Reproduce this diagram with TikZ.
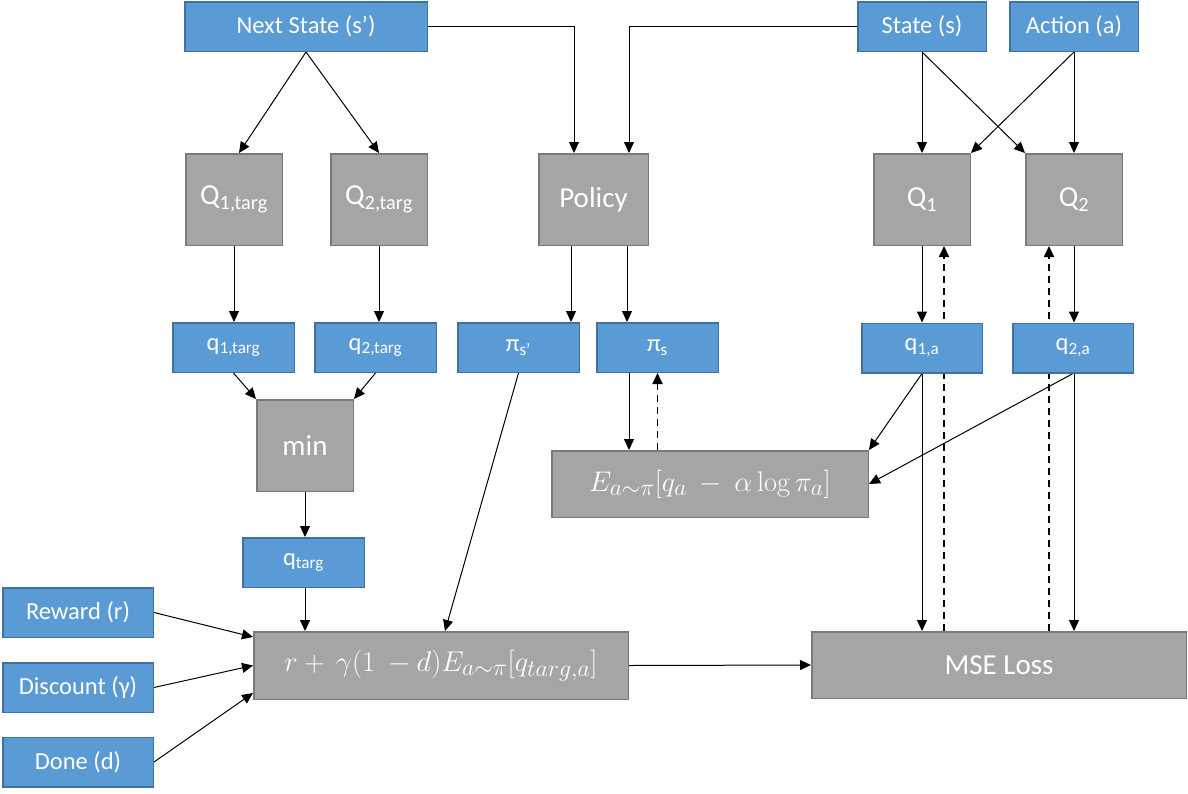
\documentclass[tikz,border=0pt]{standalone}
\usepackage[no-math]{fontspec}
\usepackage{graphicx}
\setmainfont{Carlito}
\usetikzlibrary{arrows.meta,calc}
\definecolor{bfill}{HTML}{5B9BD5}
\definecolor{bdraw}{HTML}{41719C}
\definecolor{gfill}{HTML}{A5A5A5}
\definecolor{gdraw}{HTML}{7A7A7A}
\pgfdeclarelayer{bg}
\pgfsetlayers{bg,main}
\tikzset{
  bbox/.style={draw=bdraw,fill=bfill,line width=1.5pt,text=white,inner sep=0pt,
    font=\fontsize{24.5}{29}\selectfont,minimum height=49.5pt},
  gbox/.style={draw=gdraw,fill=gfill,line width=1.5pt,text=white,inner sep=0pt,
    font=\fontsize{29}{35}\selectfont},
  mbox/.style={gbox,font=\fontsize{24.88}{30}\selectfont},
  arr/.style={line width=1pt,-{Triangle[length=11pt,width=10pt]}},
  darr/.style={line width=1.8pt,dash pattern=on 7pt off 5pt,-{Triangle[length=11pt,width=10pt]}},
}
\begin{document}
\begin{tikzpicture}[x=1pt,y=-1pt]
\useasboundingbox (0,0) rectangle (1188,793);
% blue inputs
\node[bbox,minimum width=242.5pt] (ns) at (306,26.5) {Next State (s’)};
\node[bbox,minimum width=128.5pt] (st) at (922,26.5) {State (s)};
\node[bbox,minimum width=128.5pt] (ac) at (1074,26.5) {Action (a)};
% gray networks
\node[gbox,minimum width=96.5pt,minimum height=91.5pt] (Q1t) at (234,199.5) {Q\textsubscript{1,targ}};
\node[gbox,minimum width=96.5pt,minimum height=91.5pt] (Q2t) at (379,199.5) {Q\textsubscript{2,targ}};
\node[gbox,minimum width=109.5pt,minimum height=91.5pt] (pol) at (593.5,199.5) {Policy};
\node[gbox,minimum width=96.5pt,minimum height=91.5pt] (Q1) at (922,199.5) {Q\textsubscript{1}};
\node[gbox,minimum width=96.5pt,minimum height=91.5pt] (Q2) at (1074,199.5) {Q\textsubscript{2}};
% blue intermediate
\node[bbox,minimum width=121.5pt] (q1t) at (233.5,347.5) {q\textsubscript{1,targ}};
\node[bbox,minimum width=121.5pt] (q2t) at (375.5,347.5) {q\textsubscript{2,targ}};
\node[bbox,minimum width=121.5pt] (pisp) at (518.5,347.5) {π\textsubscript{s’}};
\node[bbox,minimum width=121.5pt] (pis) at (657.5,347.5) {π\textsubscript{s}};
\node[bbox,minimum width=120.5pt] (q1a) at (922,348) {q\textsubscript{1,a}};
\node[bbox,minimum width=120.5pt] (q2a) at (1073,348) {q\textsubscript{2,a}};
% min, q_targ
\node[gbox,minimum width=96.5pt,minimum height=91.5pt] (min) at (305,445.5) {min};
\node[bbox,minimum width=121.5pt] (qt) at (303.5,562.5) {q\textsubscript{targ}};
% policy objective
\node[mbox,minimum width=316.5pt,minimum height=66.5pt] (E) at (710,484)
  {\scalebox{1.14}{$E_{a\sim\pi}[q_a\ -\ \alpha\log\pi_a]$}};
% target and loss
\node[mbox,minimum width=374.5pt,minimum height=67.5pt] (big) at (441,665.5)
  {\scalebox{1.15}{$r+\,\gamma(1\ -d)E_{a\sim\pi}[q_{targ,a}]$}};
\node[gbox,minimum width=374.5pt,minimum height=66.5pt] (mse) at (999,665) {MSE Loss};
% left inputs
\node[bbox,minimum width=150.5pt] (rew) at (78,612.5) {Reward (r)};
\node[bbox,minimum width=150.5pt] (dis) at (78,687.5) {Discount (γ)};
\node[bbox,minimum width=150.5pt] (done) at (78,762) {Done (d)};
% helper coordinates
\path ([xshift=-22.5]pol.south) coordinate (p1)
      ([xshift=33.5]pol.south) coordinate (p2)
      ([xshift=-28.5]pis.south) coordinate (p3)
      ([xshift=22]Q1.south) coordinate (d1)
      ([xshift=-25]Q2.south) coordinate (d2)
      ([xshift=-19.5]pol.north) coordinate (p4)
      ([xshift=35.5]pol.north) coordinate (p5)
      ([xshift=4]big.north) coordinate (b1)
      ([yshift=-6]big.north west) coordinate (b2)
      ([yshift=7]big.south west) coordinate (b3)
      ([xshift=5]Q1t.north) coordinate (t1);
\begin{pgfonlayer}{bg}
\draw[arr] (ns.south) -- (t1);
\draw[arr] (ns.south) -- (Q2t.north);
\draw[arr] (ns.east) -| (p4);
\draw[arr] (st.west) -| (p5);
\draw[arr] (st.south) -- (Q1.north);
\draw[arr] (st.south) -- (Q2.north west);
\draw[arr] (ac.south) -- (Q1.north east);
\draw[arr] (ac.south) -- (Q2.north);
\draw[arr] (Q1t.south) -- (Q1t.south |- q1t.north);
\draw[arr] (Q2t.south) -- (Q2t.south |- q2t.north);
\draw[arr] (p1) -- (p1 |- pisp.north);
\draw[arr] (p2) -- (p2 |- pis.north);
\draw[arr] (Q1.south) -- (q1a.north);
\draw[arr] (Q2.south) -- (Q2.south |- q2a.north);
\draw[arr] (q1t.south) -- (min.north west);
\draw[arr] (q2t.south) -- (min.north east);
\draw[arr] (min.south) -- (min.south |- qt.north);
\draw[arr] (min.south |- qt.south) -- (min.south |- big.north);
\draw[arr] (pisp.south) -- (b1);
\draw[arr] (p3) -- (p3 |- E.north);
\draw[darr] (pis.south |- E.north) -- (pis.south);
\draw[arr] (rew.east) -- (b2);
\draw[arr] (dis.east) -- (big.west);
\draw[arr] (done.east) -- (b3);
\draw[arr] (q1a.south) -- (E.north east);
\draw[arr] (q2a.south) -- (E.east);
\draw[arr] (q1a.south) -- (q1a.south |- mse.north);
\draw[arr] (Q2.south |- q2a.south) -- (Q2.south |- mse.north);
\draw[darr] (d1 |- mse.north) -- (d1);
\draw[darr] (d2 |- mse.north) -- (d2);
\draw[arr] (big.east) -- (mse.west);
\end{pgfonlayer}
\end{tikzpicture}
\end{document}
